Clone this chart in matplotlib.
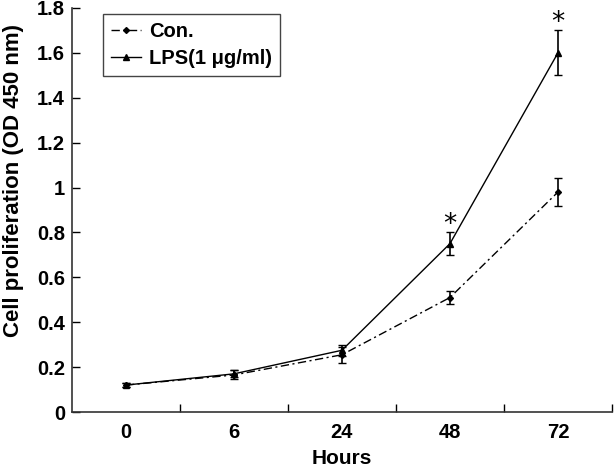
#!/usr/bin/env python3
"""Cell proliferation line chart (Con. vs LPS) with error bars."""
import matplotlib
matplotlib.use('Agg')
import matplotlib.pyplot as plt
from matplotlib.lines import Line2D

OUTPUT_FILE = 'out.png'

# Data
hours = ['0', '6', '24', '48', '72']
con_mean = [0.12, 0.165, 0.255, 0.51, 0.98]
con_err = [0.01, 0.02, 0.035, 0.027, 0.062]
lps_mean = [0.12, 0.17, 0.275, 0.75, 1.60]
lps_err = [0.008, 0.015, 0.025, 0.05, 0.10]
significant = [False, False, False, True, True]
y_ticks = [0, 0.2, 0.4, 0.6, 0.8, 1.0, 1.2, 1.4, 1.6, 1.8]
y_tick_labels = ['0', '0.2', '0.4', '0.6', '0.8', '1', '1.2', '1.4', '1.6', '1.8']

plt.rcParams['font.family'] = ['Liberation Sans', 'DejaVu Sans']

CON_LS = (0, (6, 2.5, 1.5, 2.5))

fig = plt.figure(figsize=(6.14, 4.69), dpi=100)
ax = fig.add_axes([0.117, 0.1215, 0.8797, 0.8615])

x = list(range(len(hours)))

ax.errorbar(x, con_mean, yerr=con_err, color='black', linestyle=CON_LS,
            linewidth=1.0, marker='D', markersize=3, capsize=3, elinewidth=1.2,
            capthick=1.0)
ax.errorbar(x, lps_mean, yerr=lps_err, color='black', linestyle='-',
            linewidth=1.0, marker='^', markersize=4, capsize=3, elinewidth=1.2,
            capthick=1.0)

for xi, m, e, sig in zip(x, lps_mean, lps_err, significant):
    if sig:
        ax.annotate('*', xy=(xi, m + e), xytext=(0, -4), textcoords='offset points',
                    ha='center', va='bottom', fontsize=19, family='DejaVu Sans')

ax.set_xlim(-0.5, len(hours) - 0.5)
ax.set_ylim(0, 1.8)
ax.set_yticks(y_ticks)
ax.set_yticklabels(y_tick_labels, fontsize=14.5, fontweight='bold')

# category labels at centers, tick marks at boundaries
ax.set_xticks([i + 0.5 for i in x])
ax.set_xticklabels([])
ax.set_xticks(x, minor=True)
ax.set_xticklabels(hours, minor=True, fontsize=14.5, fontweight='bold')
ax.tick_params(axis='x', which='major', direction='in', length=6, width=1)
ax.tick_params(axis='x', which='minor', length=0, pad=8)
ax.tick_params(axis='y', direction='in', length=6, width=1, pad=5)

ax.spines['top'].set_visible(False)
ax.spines['right'].set_visible(False)
for s in ('left', 'bottom'):
    ax.spines[s].set_color('#333333')
    ax.spines[s].set_linewidth(1.2)

ax.set_xlabel('Hours', fontsize=15, fontweight='bold', labelpad=5)
ax.set_ylabel('Cell proliferation (OD 450 nm)', fontsize=16, fontweight='bold')
ax.yaxis.set_label_coords(-0.088, 0.572)

handles = [
    Line2D([], [], color='black', linestyle=CON_LS, linewidth=1.0, marker='D', markersize=3),
    Line2D([], [], color='black', linestyle='-', linewidth=1.0, marker='^', markersize=4),
]
leg = ax.legend(handles, ['Con.', 'LPS(1 \u03bcg/ml)'], loc='upper left',
                bbox_to_anchor=(0.057, 0.985),
                prop={'weight': 'bold', 'size': 14.5}, fancybox=False, framealpha=1,
                edgecolor='#444444', handlelength=1.5, borderpad=0.4, labelspacing=0.4,
                handletextpad=0.4, borderaxespad=0)
leg.get_frame().set_linewidth(1.0)

fig.savefig(OUTPUT_FILE, dpi=100, facecolor='white')
plt.close(fig)
